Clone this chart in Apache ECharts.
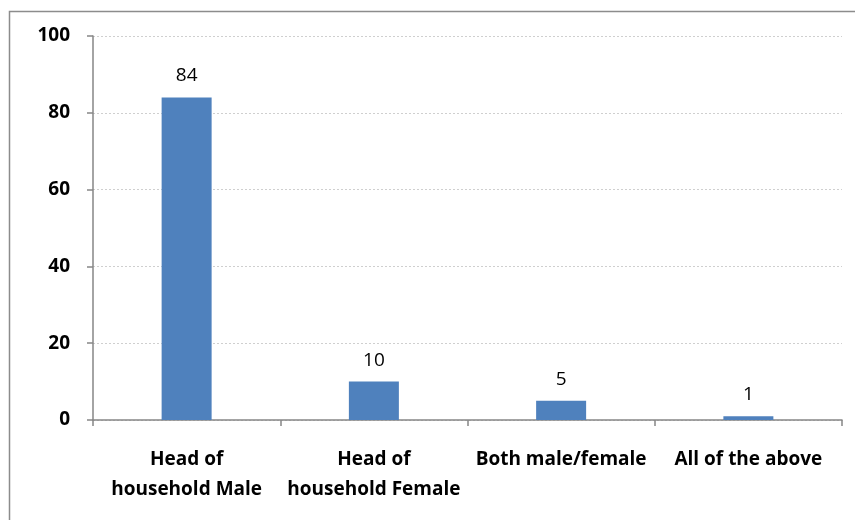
<!DOCTYPE html>
<html>
<head>
<meta charset="utf-8">
<script src="https://cdn.jsdelivr.net/npm/echarts@6/dist/echarts.min.js"></script>
<style>
  html, body { margin: 0; padding: 0; background: #ffffff; }
  #chart { width: 855px; height: 520px; }
</style>
</head>
<body>
<div id="chart"></div>
<script>
// Categories and values
const categories = ['Head of\nhousehold Male', 'Head of\nhousehold Female', 'Both male/female', 'All of the above'];
const values = [84, 10, 5, 1];
const yTicks = { min: 0, max: 100, interval: 20 };

const chart = echarts.init(document.getElementById('chart'), null, { renderer: 'canvas' });
const fontFamily = '"Open Sans", "Noto Sans", sans-serif';
const axisColor = '#868686';

chart.setOption({
  animation: false,
  backgroundColor: '#ffffff',
  graphic: [{
    type: 'rect',
    shape: { x: 9.5, y: 11.5, width: 860, height: 520 },
    style: { fill: 'none', stroke: '#8c8c8c', lineWidth: 1.5 },
    silent: true
  }],
  grid: { left: 93, right: 13, top: 36, bottom: 100, containLabel: false },
  xAxis: {
    type: 'category',
    data: categories,
    axisLine: { lineStyle: { color: axisColor, width: 1.5 } },
    axisTick: { show: true, alignWithLabel: false, length: 6, lineStyle: { color: axisColor, width: 1.5 } },
    axisLabel: {
      color: '#000', fontFamily, fontWeight: 'bold', fontSize: 19,
      lineHeight: 30, margin: 25, interval: 0
    }
  },
  yAxis: {
    type: 'value',
    min: yTicks.min, max: yTicks.max, interval: yTicks.interval,
    axisLine: { show: true, lineStyle: { color: axisColor, width: 1.5 } },
    axisTick: { show: true, length: 6, lineStyle: { color: axisColor, width: 1.5 } },
    axisLabel: { color: '#000', fontFamily, fontWeight: 'bold', fontSize: 19, margin: 23 },
    splitLine: { show: true, lineStyle: { color: '#cfcfcf', type: [2, 2], width: 1 } }
  },
  series: [{
    type: 'bar',
    data: values,
    barWidth: 50,
    itemStyle: { color: '#4f81bd' },
    label: {
      show: true, position: 'top', distance: 12,
      color: '#000', fontFamily, fontSize: 19
    }
  }]
});
</script>
</body>
</html>
